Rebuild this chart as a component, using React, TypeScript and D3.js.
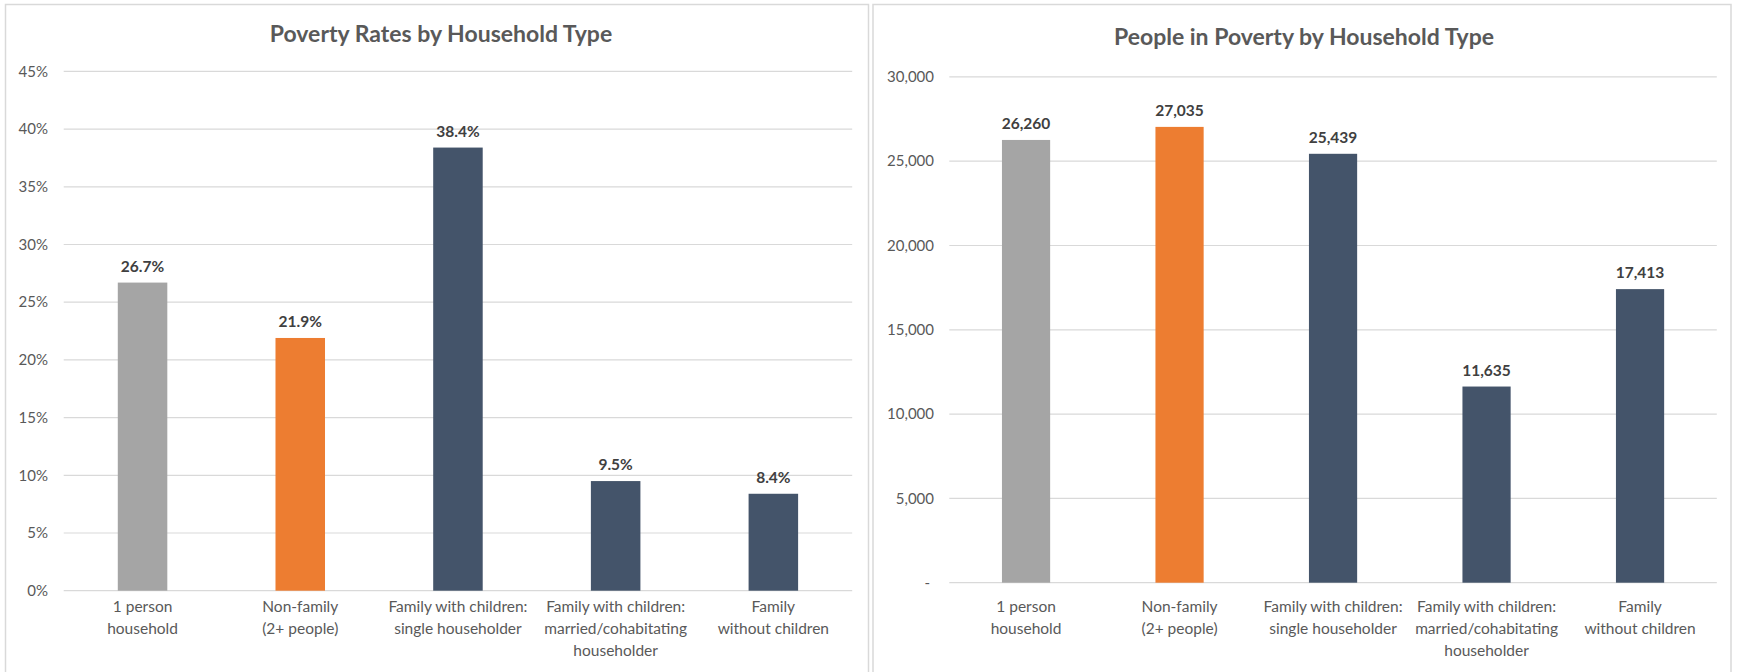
import React from "react";
import * as d3 from "d3";

const categories: string[][] = [
  ["1 person", "household"],
  ["Non-family", "(2+ people)"],
  ["Family with children:", "single householder"],
  ["Family with children:", "married/cohabitating", "householder"],
  ["Family", "without children"],
];
const barColors = ["#a5a5a5", "#ed7d31", "#44546a", "#44546a", "#44546a"];
const povertyRates = [0.267, 0.219, 0.384, 0.095, 0.084];
const peopleInPoverty = [26260, 27035, 25439, 11635, 17413];
const rateTicks = [0, 0.05, 0.1, 0.15, 0.2, 0.25, 0.3, 0.35, 0.4, 0.45];
const peopleTicks = [0, 5000, 10000, 15000, 20000, 25000, 30000];

const FONT = "Lato, 'Open Sans', sans-serif";

type PanelProps = {
  title: string;
  titleX: number;
  titleY: number;
  values: number[];
  ticks: number[];
  yMax: number;
  xRange: [number, number];
  yRange: [number, number];
  tickRight: number;
  tickFmt: (v: number) => string;
  valFmt: (v: number) => string;
  panel: [number, number, number, number];
};

function Panel(p: PanelProps) {
  const keys = categories.map((_, i) => String(i));
  const x = d3.scaleBand<string>().domain(keys).range(p.xRange).paddingInner(0.686).paddingOuter(0.343);
  const y = d3.scaleLinear().domain([0, p.yMax]).range(p.yRange);
  const [px, py, pw, ph] = p.panel;
  return (
    <g>
      <rect x={px} y={py} width={pw} height={ph} fill="#ffffff" stroke="#d9d9d9" strokeWidth={1.5} />
      <text x={p.titleX} y={p.titleY} textAnchor="middle" fontFamily={FONT} fontWeight={700} fontSize={23} fill="#595959">
        {p.title}
      </text>
      {p.ticks.map((t) => (
        <g key={t}>
          <line x1={p.xRange[0]} x2={p.xRange[1]} y1={y(t)} y2={y(t)} stroke="#d9d9d9" strokeWidth={1.2} />
          <text
            x={t === 0 && p.tickFmt(t) === "-" ? p.tickRight - 4 : p.tickRight}
            y={y(t)}
            dy="0.35em"
            textAnchor="end"
            fontFamily={FONT}
            fontSize={15}
            fill="#595959"
          >
            {p.tickFmt(t)}
          </text>
        </g>
      ))}
      {p.values.map((v, i) => {
        const k = keys[i];
        const bx = x(k)!;
        const cx = bx + x.bandwidth() / 2;
        return (
          <g key={k}>
            <rect x={bx} y={y(v)} width={x.bandwidth()} height={y(0) - y(v)} fill={barColors[i]} />
            <text x={cx} y={y(v) - 11} textAnchor="middle" fontFamily={FONT} fontWeight={700} fontSize={15.5} fill="#404040">
              {p.valFmt(v)}
            </text>
            {categories[i].map((line, j) => (
              <text
                key={j}
                x={cx}
                y={607 + j * 22}
                dy="0.35em"
                textAnchor="middle"
                fontFamily={FONT}
                fontSize={15.5}
                fill="#595959"
              >
                {line}
              </text>
            ))}
          </g>
        );
      })}
    </g>
  );
}

export default function App() {
  const pctFmt = d3.format(".0%");
  const valPct = d3.format(".1%");
  const comma = d3.format(",");
  return (
    <svg
      width={1737}
      height={672}
      style={{ position: "absolute", left: 0, top: 0, background: "#ffffff" }}
    >
      <rect x={0} y={0} width={1737} height={672} fill="#ffffff" />
      <Panel
        title="Poverty Rates by Household Type"
        titleX={441}
        titleY={42}
        values={povertyRates}
        ticks={rateTicks}
        yMax={0.45}
        xRange={[63.7, 852.2]}
        yRange={[590.7, 71.4]}
        tickRight={48}
        tickFmt={(v) => pctFmt(v)}
        valFmt={(v) => valPct(v)}
        panel={[5.5, 4.5, 863, 680]}
      />
      <Panel
        title="People in Poverty by Household Type"
        titleX={1304}
        titleY={44.5}
        values={peopleInPoverty}
        ticks={peopleTicks}
        yMax={30000}
        xRange={[949.3, 1716.8]}
        yRange={[582.7, 76.9]}
        tickRight={934}
        tickFmt={(v) => (v === 0 ? "-" : comma(v))}
        valFmt={(v) => comma(v)}
        panel={[873, 4.5, 858, 680]}
      />
    </svg>
  );
}
